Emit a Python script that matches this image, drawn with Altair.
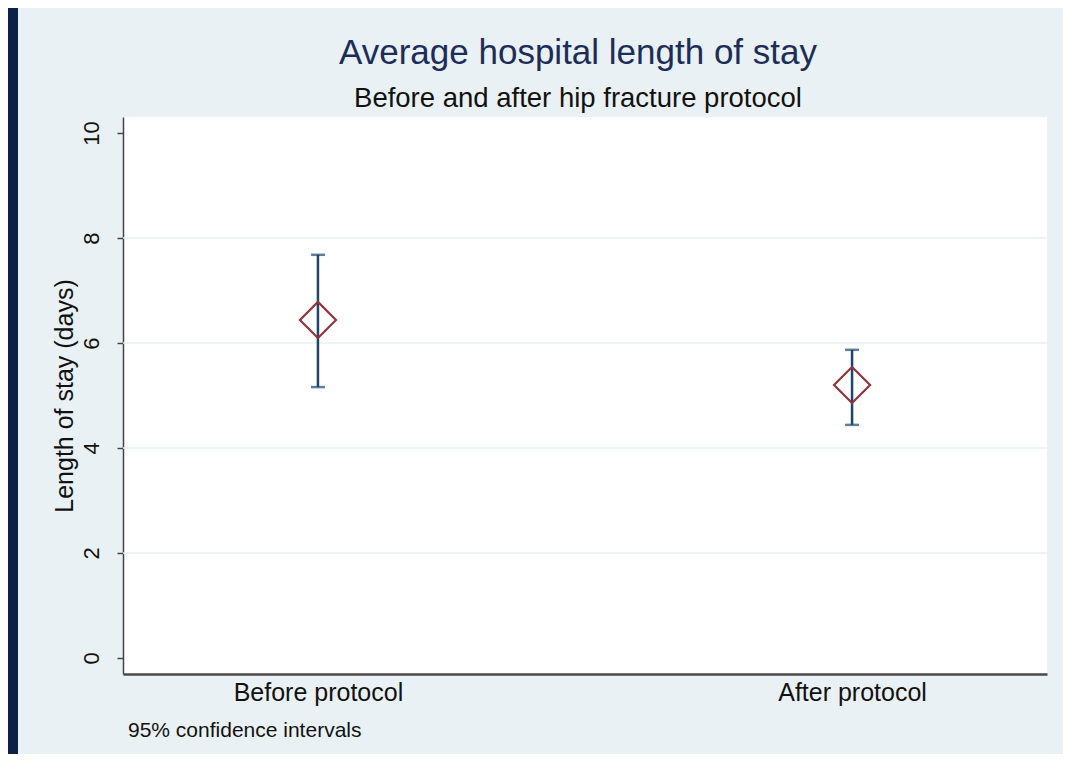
import altair as alt
import pandas as pd

# ---- data ----
categories = ["Before protocol", "After protocol"]
means = [6.44, 5.20]
ci_lower = [5.16, 4.44]
ci_upper = [7.68, 5.87]
y_ticks = [0, 2, 4, 6, 8, 10]
grid_values = [2, 4, 6, 8]

df = pd.DataFrame({"group": categories, "mean": means, "lo": ci_lower, "hi": ci_upper})
grid_df = pd.DataFrame({"g": grid_values})

W, H = 924, 557
FONT = "Liberation Sans"
NAVY = "#1a476f"
MAROON = "#90353b"

x_enc = alt.X(
    "group:N",
    sort=categories,
    scale=alt.Scale(type="point", padding=0.365),
    axis=alt.Axis(
        title=None, labelAngle=0, ticks=False, labelFontSize=25, labelColor="#111111",
        labelPadding=6, domainColor="#4a4a4a", domainWidth=2.5, grid=False,
    ),
)
y_scale = alt.Scale(domain=[-0.305, 10.305], nice=False, zero=False)
y_axis = alt.Axis(
    title="Length of stay (days)", titleFontSize=25, titleFontWeight="normal", titleColor="#111111",
    titlePadding=3, values=y_ticks, labelAngle=270, labelAlign="center", labelBaseline="bottom",
    labelFontSize=22, labelColor="#111111", labelPadding=14, tickSize=6, tickColor="#444444",
    tickWidth=1.5, domainColor="#444444", domainWidth=1.5, grid=False,
)

base = alt.Chart(df)

grid = alt.Chart(grid_df).mark_rule(color="#e9f0f3", strokeWidth=1.5).encode(
    y=alt.Y("g:Q", scale=y_scale, axis=y_axis)
)

stripe = alt.Chart(pd.DataFrame({"a": [0]})).mark_rect(color="#0c2049", clip=False).encode(
    x=alt.value(-115), x2=alt.value(-105), y=alt.value(-109), y2=alt.value(H + 90)
)

err = base.mark_rule(color=NAVY, strokeWidth=2.5).encode(
    x=x_enc, y=alt.Y("lo:Q", scale=y_scale, axis=y_axis), y2="hi:Q"
)
cap_lo = base.mark_tick(color=NAVY, size=14, thickness=2.5, orient="horizontal").encode(
    x=x_enc, y=alt.Y("lo:Q", scale=y_scale, axis=y_axis)
)
cap_hi = base.mark_tick(color=NAVY, size=14, thickness=2.5, orient="horizontal").encode(
    x=x_enc, y=alt.Y("hi:Q", scale=y_scale, axis=y_axis)
)
diamond = base.mark_point(shape="diamond", filled=False, color=MAROON, strokeWidth=2.2,
                          size=1300, opacity=1).encode(
    x=x_enc, y=alt.Y("mean:Q", scale=y_scale, axis=y_axis)
)

note = alt.Chart(pd.DataFrame({"t": ["95% confidence intervals"]})).mark_text(
    align="left", baseline="alphabetic", fontSize=21, color="#111111", font=FONT
).encode(text="t:N", x=alt.value(5), y=alt.value(620))

chart = alt.layer(grid, stripe, err, cap_lo, cap_hi, diamond, note).properties(
    width=W,
    height=H,
    autosize=alt.AutoSizeParams(type="none"),
    padding={"left": 115, "top": 109, "right": 16, "bottom": 80},
    background="#eaf1f4",
    title=alt.TitleParams(
        text="Average hospital length of stay",
        subtitle="Before and after hip fracture protocol",
        fontSize=35, fontWeight="normal", color="#1c2d5a",
        subtitleFontSize=27.5, subtitleColor="#111111", subtitlePadding=14,
        anchor="middle", frame="group", offset=8, dx=-7, dy=112, font=FONT, subtitleFont=FONT,
    ),
).configure(font=FONT).configure_view(fill="white", stroke=None)

chart.save("out.html", embed_options={"renderer": "svg", "actions": False})
